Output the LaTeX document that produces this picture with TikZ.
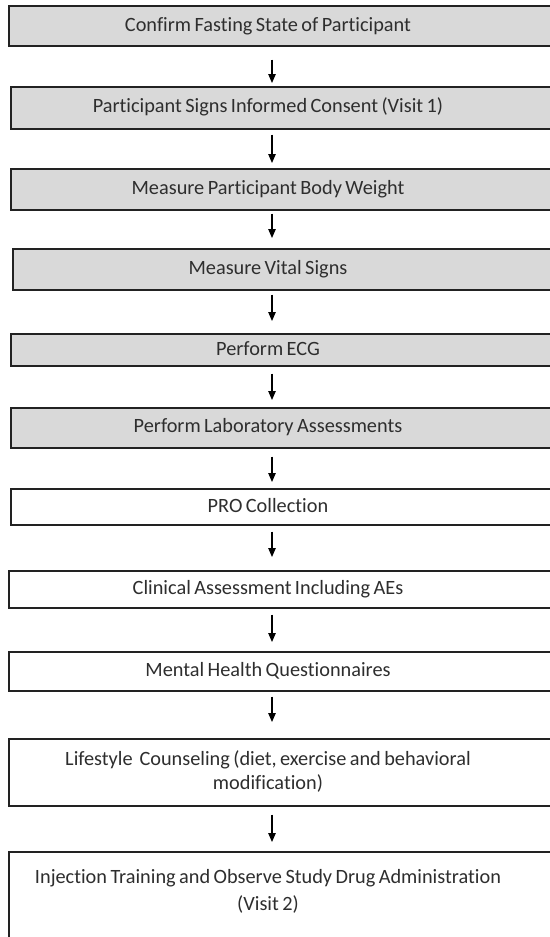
\documentclass[tikz,border=0pt]{standalone}
\usepackage{fontspec}
\setmainfont[WordSpace=0.75, Ligatures={NoCommon}]{Carlito}
\usetikzlibrary{arrows.meta}
\definecolor{boxgray}{HTML}{D9D9D9}
\definecolor{ink}{HTML}{2E2E2E}
\definecolor{edge}{HTML}{222222}
\tikzset{
  gbox/.style={draw=edge, line width=1.6pt, fill=boxgray, rectangle, minimum width=560pt, anchor=north west, inner sep=0pt},
  wbox/.style={draw=edge, line width=1.6pt, fill=white, rectangle, minimum width=560pt, anchor=north west, inner sep=0pt},
  lbl/.style={text=ink, font=\fontsize{20.3}{24}\selectfont, align=center, inner sep=0pt},
  arr/.style={draw=black, line width=1.1pt, -{Triangle[width=7.5pt,length=9pt]}}
}
\begin{document}
\begin{tikzpicture}[x=1pt,y=1pt]
\useasboundingbox (0,0) rectangle (549,-937);
\fill[white] (0,0) rectangle (549,-937);
\coordinate (ax) at (272,0);
% boxes
\node[gbox, minimum height=40pt] (b1) at (8,-5) {};
\node[gbox, minimum height=42pt] (b2) at (10,-86) {};
\node[gbox, minimum height=41pt] (b3) at (10,-168) {};
\node[gbox, minimum height=41pt] (b4) at (12,-248) {};
\node[gbox, minimum height=32pt] (b5) at (10,-333) {};
\node[gbox, minimum height=40pt] (b6) at (10,-407) {};
\node[wbox, minimum height=36pt] (b7) at (10,-488) {};
\node[wbox, minimum height=37pt] (b8) at (8,-570) {};
\node[wbox, minimum height=39pt] (b9) at (8,-651) {};
\node[wbox, minimum height=67pt] (b10) at (8,-738) {};
\node[wbox, minimum height=120pt] (b11) at (8,-851) {};
% texts
\node[lbl] (t1) at (268,-26) {Confirm Fasting State of Participant};
\node[lbl] (t2) at (268,-107) {Participant Signs Informed Consent (Visit 1)};
\node[lbl] (t3) at (268,-189) {Measure Participant Body Weight};
\node[lbl] (t4) at (268,-269) {Measure Vital Signs};
\node[lbl] (t5) at (268,-349) {Perform ECG};
\node[lbl] (t6) at (268,-427) {Perform Laboratory Assessments};
\node[lbl] (t7) at (268,-506) {PRO Collection};
\node[lbl] (t8) at (268,-589) {Clinical Assessment Including AEs};
\node[lbl] (t9) at (268,-671) {Mental Health Questionnaires};
\node[lbl] (t10) at (268,-771) {Lifestyle\ \ Counseling (diet, exercise and behavioral\\modification)};
\node[lbl, font=\fontsize{20.3}{27}\selectfont] (t11) at (268,-891) {Injection Training and Observe Study Drug Administration\\(Visit 2)};
% arrows
\draw[arr, shorten <=13pt, shorten >=3pt] (b1.south -| ax) -- (b2.north -| ax);
\draw[arr, shorten <=5pt, shorten >=5pt] (b2.south -| ax) -- (b3.north -| ax);
\draw[arr, shorten <=3pt, shorten >=10pt] (b3.south -| ax) -- (b4.north -| ax);
\draw[arr, shorten <=4pt, shorten >=12pt] (b4.south -| ax) -- (b5.north -| ax);
\draw[arr, shorten <=7pt, shorten >=7pt] (b5.south -| ax) -- (b6.north -| ax);
\draw[arr, shorten <=8pt, shorten >=6pt] (b6.south -| ax) -- (b7.north -| ax);
\draw[arr, shorten <=6pt, shorten >=13pt] (b7.south -| ax) -- (b8.north -| ax);
\draw[arr, shorten <=6pt, shorten >=9pt] (b8.south -| ax) -- (b9.north -| ax);
\draw[arr, shorten <=5pt, shorten >=16pt] (b9.south -| ax) -- (b10.north -| ax);
\draw[arr, shorten <=8pt, shorten >=9pt] (b10.south -| ax) -- (b11.north -| ax);
\end{tikzpicture}
\end{document}
